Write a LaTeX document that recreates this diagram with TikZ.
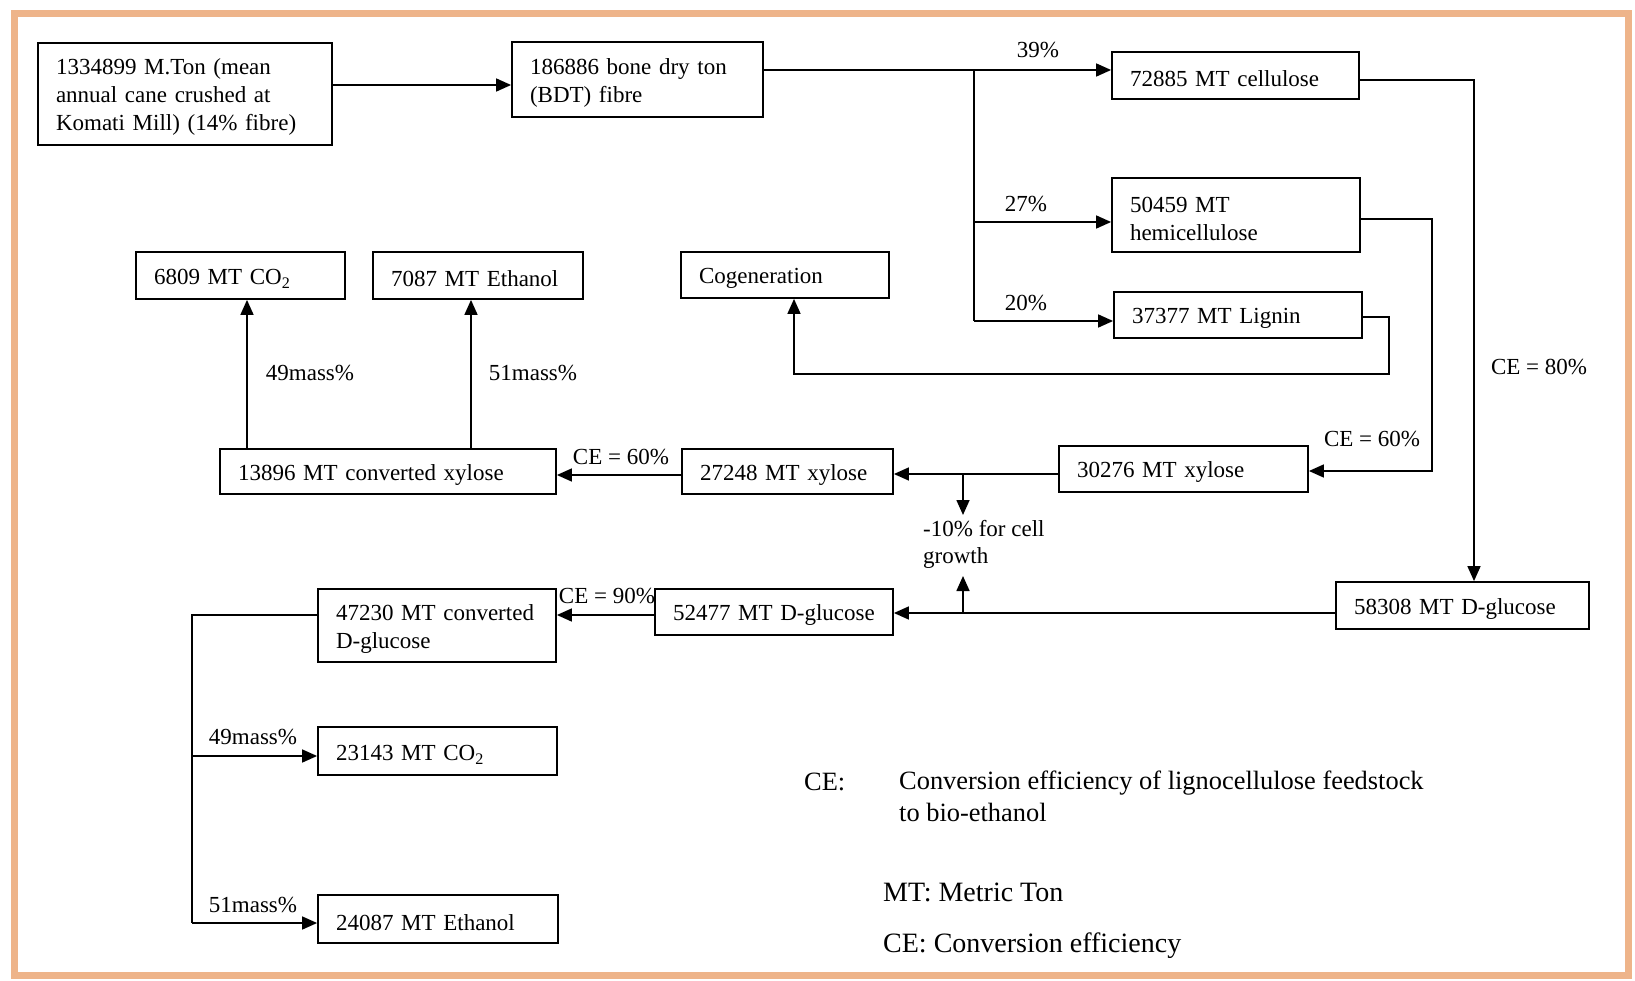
\documentclass[tikz,border=0pt]{standalone}
\usepackage{fontspec}
\setmainfont{Liberation Serif}
\usetikzlibrary{arrows.meta}
\definecolor{framecol}{RGB}{238,180,138}
% \flowbox{name}{x1}{y1}{x2}{y2}{text}: boxed node from corner (x1,y1) to (x2,y2)
\newcommand\flowbox[6]{%
  \pgfmathsetmacro\fbw{#4-#2}%
  \pgfmathsetmacro\fbh{#5-#3}%
  \pgfmathsetmacro\fbx{(#2+#4)/2}%
  \pgfmathsetmacro\fby{(#3+#5)/2}%
  \pgfmathsetmacro\fbt{#4-#2-36}%
  \node[box, minimum width=\fbw pt, minimum height=\fbh pt, text width=\fbt pt] (#1) at (\fbx,\fby) {\rule{0pt}{22.5pt}#6};%
}
\begin{document}
\begin{tikzpicture}[x=1pt,y=-1pt,
  box/.style={draw, line width=1.8pt, inner xsep=18pt, inner ysep=0pt, align=left,
              font=\fontsize{23}{28}\selectfont},
  link/.style={line width=1.6pt},
  flow/.style={link, -{Triangle[length=15pt,width=13pt]}},
  lbl/.style={inner sep=0pt, font=\fontsize{23}{27}\selectfont},
  legendA/.style={inner sep=0pt, anchor=base west, font=\fontsize{26.4}{32}\selectfont},
  legendB/.style={inner sep=0pt, anchor=base west, font=\fontsize{28}{32}\selectfont}]
\useasboundingbox (0,0) rectangle (1635,981);
\fill[white] (0,0) rectangle (1635,981);
\draw[framecol, line width=7pt] (14,14) rectangle (1628,975);

% boxes
\flowbox{cane}{38}{43}{332}{145}{1334899 M.Ton (mean\\annual cane crushed at\\Komati Mill) (14\% fibre)}
\flowbox{fibre}{512}{42}{763}{117}{186886 bone dry ton\\(BDT) fibre}
\flowbox{cell}{1112}{52}{1359}{99}{72885 MT cellulose}
\flowbox{hemi}{1112}{178}{1360}{252}{50459 MT\\hemicellulose}
\flowbox{lignin}{1114}{292}{1362}{338}{37377 MT Lignin}
\flowbox{cotop}{136}{252}{345}{299}{6809 MT CO\textsubscript{2}}
\flowbox{ettop}{373}{252}{583}{299}{7087 MT Ethanol}
\flowbox{cogen}{681}{252}{889}{298}{Cogeneration}
\flowbox{cxyl}{220}{449}{556}{494}{13896 MT converted xylose}
\flowbox{xylB}{682}{449}{893}{494}{27248 MT xylose}
\flowbox{xylA}{1059}{446}{1308}{492}{30276 MT xylose}
\flowbox{glcA}{1336}{582}{1589}{629}{58308 MT D-glucose}
\flowbox{glcB}{655}{589}{893}{635}{52477 MT D-glucose}
\flowbox{cglc}{318}{589}{556}{662}{47230 MT converted\\D-glucose}
\flowbox{cobot}{318}{727}{557}{775}{23143 MT CO\textsubscript{2}}
\flowbox{etbot}{318}{895}{558}{943}{24087 MT Ethanol}

% cane to fibre
\draw[flow] (cane.east|-0,85) -- (fibre.west|-0,85);

% fibre split into cellulose, hemicellulose, lignin
\coordinate (split) at (974,70);
\draw[link] (fibre.east|-split) -- (split);
\draw[flow] (split) -- (cell.west|-split);
\draw[link] (split) -- (974,321);
\draw[flow] (974,222) -- (hemi.west|-0,222);
\draw[flow] (974,321) -- (lignin.west|-0,321);
\node[lbl] (p39) at (1038,50) {39\%};
\node[lbl] (p27) at (1026,204) {27\%};
\node[lbl] (p20) at (1026,303) {20\%};

% cellulose to D-glucose
\draw[flow] (cell.east|-0,80) -| (glcA.north-|1474,0);
\node[lbl] (ce80) at (1539,367) {CE = 80\%};

% hemicellulose to xylose
\draw[flow] (hemi.east|-0,219) -- (1432,219) |- (xylA.east|-0,471);
\node[lbl] (ce60a) at (1372,439) {CE = 60\%};

% lignin to cogeneration
\draw[flow] (lignin.east|-0,317) -- (1389,317) -- (1389,374) -| (cogen.south-|794,0);

% xylose chain
\draw[flow] (xylA.west|-0,474) -- (xylB.east|-0,474);
\coordinate (gx) at (963,474);
\coordinate (gxTip) at (963,515);
\draw[flow] (gx) -- (gxTip);
\draw[flow] (xylB.west|-0,475) -- (cxyl.east|-0,475);
\node[lbl] (ce60b) at (621,457) {CE = 60\%};

% cell growth note
\node[lbl, anchor=base west] (grow1) at (923,536) {-10\% for cell};
\node[lbl, anchor=base west] (grow2) at (923,563) {growth};

% glucose chain
\draw[flow] (glcA.west|-0,613) -- (glcB.east|-0,613);
\coordinate (gg) at (963,613);
\coordinate (ggTip) at (963,576);
\draw[flow] (gg) -- (ggTip);
\draw[flow] (glcB.west|-0,615) -- (cglc.east|-0,615);
\node[lbl] (ce90) at (607,596) {CE = 90\%};

% converted xylose to products
\draw[flow] (cxyl.north-|247,0) -- (cotop.south-|247,0);
\draw[flow] (cxyl.north-|471,0) -- (ettop.south-|471,0);
\node[lbl] (m49a) at (310,373) {49mass\%};
\node[lbl] (m51a) at (533,373) {51mass\%};

% converted D-glucose to products
\coordinate (trunkTop) at (192,615);
\coordinate (trunkMid) at (192,756);
\coordinate (trunkBot) at (192,923);
\draw[link] (cglc.west|-trunkTop) -- (trunkTop) -- (trunkBot);
\draw[flow] (trunkMid) -- (cobot.west|-trunkMid);
\draw[flow] (trunkBot) -- (etbot.west|-trunkBot);
\node[lbl] (m49b) at (253,737) {49mass\%};
\node[lbl] (m51b) at (253,905) {51mass\%};

% legend
\node[legendA] (ceKey) at (804,790) {CE:};
\node[legendA] (ceDef1) at (899,789) {Conversion efficiency of lignocellulose feedstock};
\node[legendA] (ceDef2) at (899,821) {to bio-ethanol};
\node[legendB] (mtKey) at (883,901) {MT: Metric Ton};
\node[legendB] (ceKey2) at (883,952) {CE: Conversion efficiency};
\end{tikzpicture}
\end{document}
